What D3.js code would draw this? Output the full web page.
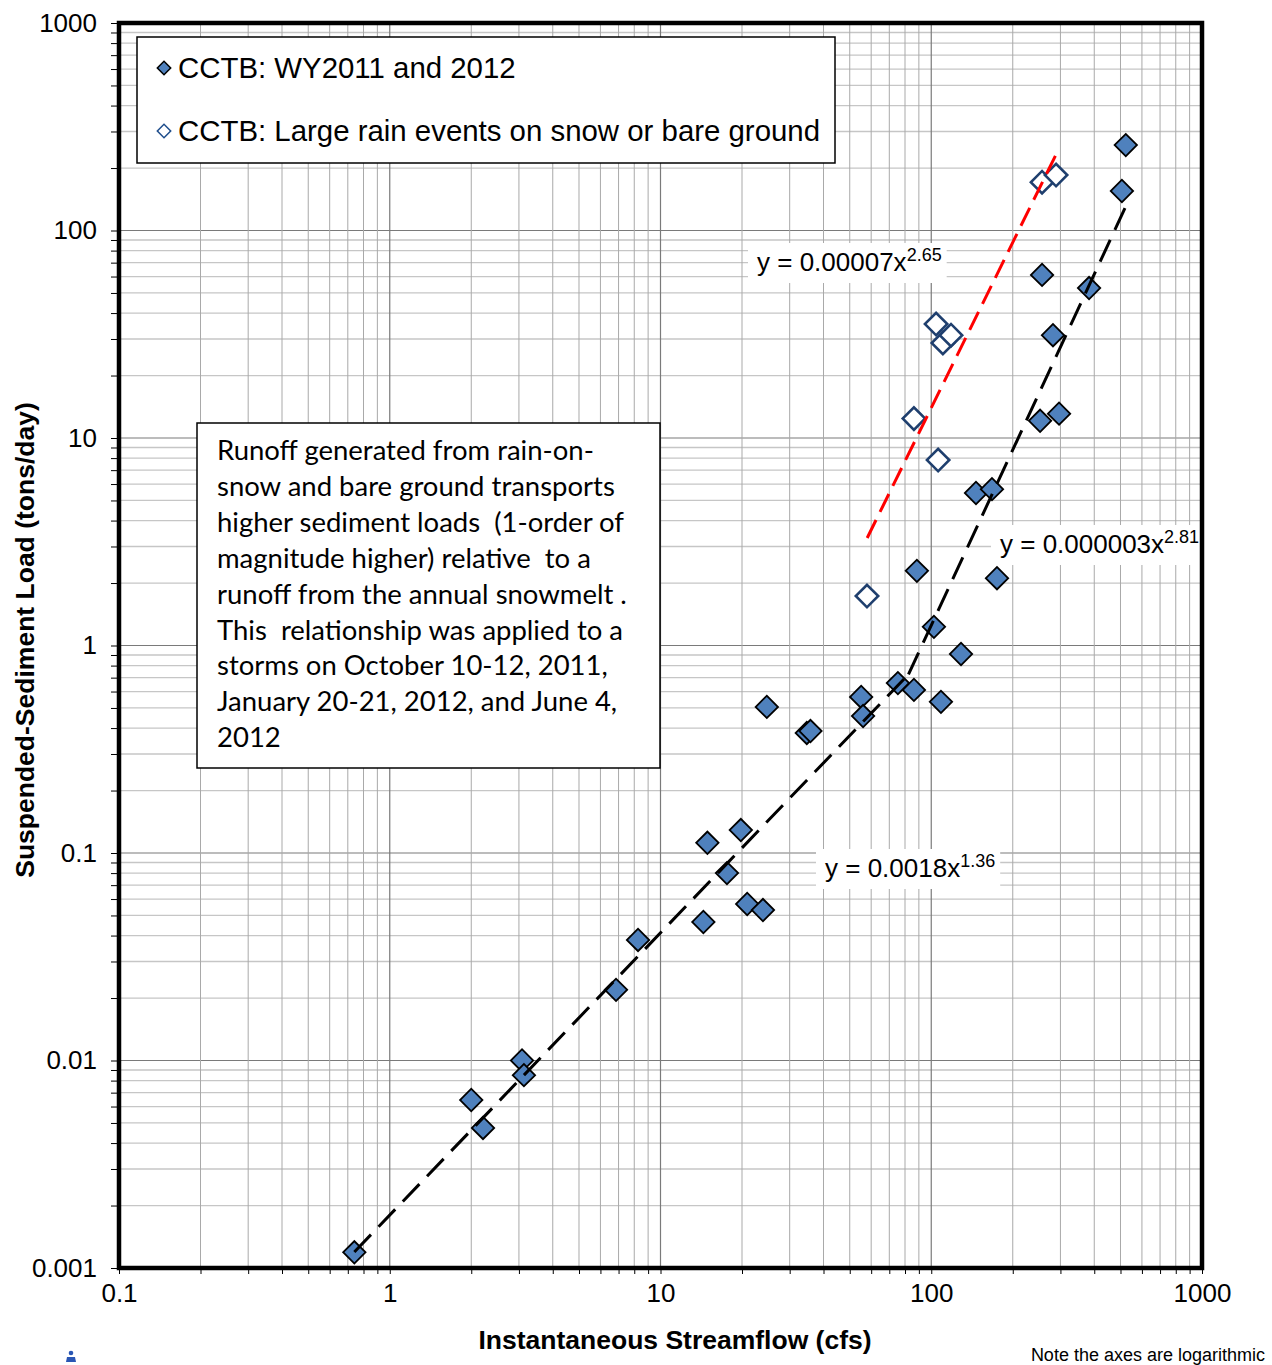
<!DOCTYPE html>
<html>
<head>
<meta charset="utf-8">
<script src="https://cdn.jsdelivr.net/npm/d3@7"></script>
<style>
  body { margin: 0; background: #fff; }
  text { font-family: "Liberation Sans", Arial, sans-serif; }
</style>
</head>
<body>
<svg id="chart" width="1272" height="1365"></svg>
<script>
// Instantaneous streamflow (cfs) and suspended-sediment load (tons/day), CCTB WY2011-2012
const flowCfs = [0.74, 2.0, 2.21, 3.08, 3.13, 6.85, 8.26, 14.4, 14.9, 17.6, 19.8, 20.9, 23.9, 24.7,
  34.7, 35.8, 55.1, 56.0, 75.3, 86.3, 88.5, 102.3, 108.6, 128.8, 146.3, 167.6, 174.9,
  252.3, 296.5, 281.6, 256.6, 382.7, 506, 523];
const loadTons = [0.00119, 0.00645, 0.00473, 0.0100, 0.0085, 0.0219, 0.0381, 0.0465, 0.112, 0.080, 0.129, 0.0568, 0.0531, 0.506,
  0.379, 0.387, 0.565, 0.457, 0.659, 0.611, 2.29, 1.23, 0.535, 0.91, 5.43, 5.67, 2.11,
  12.1, 13.1, 31.3, 61.1, 52.8, 155, 258];

// Large rain events on snow or bare ground
const rainFlowCfs = [57.9, 86.3, 106, 104.2, 110.4, 118.3, 256.6, 289];
const rainLoadTons = [1.73, 12.4, 7.83, 35.4, 28.7, 31.3, 171, 185];

// Power-law trend lines y = a * x^b, each drawn over its flow range
const trendCoef = [0.0018, 0.000003, 0.00007];
const trendExp = [1.36, 2.81, 2.65];
const trendFrom = [0.74, 82.4, 58];
const trendTo = [82.4, 523, 291];
const trendColor = ["#000", "#000", "#ff0000"];
const trendCoefText = ["0.0018", "0.000003", "0.00007"];
const trendExpText = ["1.36", "2.81", "2.65"];

const xTickLabels = ["0.1", "1", "10", "100", "1000"];
const yTickLabels = ["0.001", "0.01", "0.1", "1", "10", "100", "1000"];

const legendLabels = ["CCTB: WY2011 and 2012", "CCTB: Large rain events on snow or bare ground"];

const noteLines = [
  "Runoff generated from rain-on-",
  "snow and bare ground transports",
  "higher sediment loads  (1-order of",
  "magnitude higher) relative  to a",
  "runoff from the annual snowmelt .",
  "This  relationship was applied to a",
  "storms on October 10-12, 2011,",
  "January 20-21, 2012, and June 4,",
  "2012"
];

const svg = d3.select("#chart");
const plotLeft = 119, plotRight = 1202, plotTop = 23, plotBottom = 1268;

const x = d3.scaleLog().domain([0.1, 1000]).range([plotLeft, plotRight]);
const y = d3.scaleLog().domain([0.001, 1000]).range([plotBottom, plotTop]);

// every 1..9 multiple of each decade
function gridValues(lo, hi) {
  const out = [];
  for (let e = lo; e < hi; e++) for (let k = 1; k <= 9; k++) out.push(+(k * Math.pow(10, e)).toPrecision(3));
  out.push(Math.pow(10, hi));
  return out;
}
const xGrid = gridValues(-1, 3);
const yGrid = gridValues(-3, 3);
const isMajor = v => Math.abs(Math.log10(v) - Math.round(Math.log10(v))) < 1e-9;

// gridlines
const grid = svg.append("g");
grid.selectAll("line.hx").data(yGrid).join("line")
  .attr("x1", plotLeft).attr("x2", plotRight)
  .attr("y1", d => y(d)).attr("y2", d => y(d))
  .attr("stroke", d => isMajor(d) ? "#7a7a7a" : "#c6c6c6")
  .attr("stroke-width", d => isMajor(d) ? 1.2 : 1.3);
grid.selectAll("line.vx").data(xGrid).join("line")
  .attr("y1", plotTop).attr("y2", plotBottom)
  .attr("x1", d => x(d)).attr("x2", d => x(d))
  .attr("stroke", d => isMajor(d) ? "#7a7a7a" : "#a9a9a9")
  .attr("stroke-width", d => isMajor(d) ? 1.2 : 1);

// axes
const yAxis = d3.axisLeft(y).tickValues(yGrid).tickSize(8).tickPadding(14)
  .tickFormat(d => isMajor(d) ? yTickLabels[Math.round(Math.log10(d)) + 3] : "");
const yg = svg.append("g").attr("transform", `translate(${plotLeft},0)`).call(yAxis);
yg.select(".domain").remove();
yg.selectAll("line").attr("stroke", "#000").attr("stroke-width", 1);
yg.selectAll("text").attr("font-size", 26).attr("fill", "#000")
  .attr("font-family", "Liberation Sans, Arial, sans-serif");

const xAxis = d3.axisBottom(x).tickValues(xGrid).tickSize(6).tickPadding(10)
  .tickFormat(d => isMajor(d) ? xTickLabels[Math.round(Math.log10(d)) + 1] : "");
const xg = svg.append("g").attr("transform", `translate(0,${plotBottom})`).call(xAxis);
xg.select(".domain").remove();
xg.selectAll("line").attr("stroke", "#000").attr("stroke-width", 1);
xg.selectAll("text").attr("font-size", 26).attr("fill", "#000")
  .attr("font-family", "Liberation Sans, Arial, sans-serif");

// annotation box
const box = svg.append("g");
box.append("rect").attr("x", 197).attr("y", 423).attr("width", 463).attr("height", 345)
  .attr("fill", "#fff").attr("stroke", "#000").attr("stroke-width", 1.5);
const noteText = box.append("g").attr("fill", "#000");
noteText.selectAll("text").data(noteLines).join("text")
  .attr("x", 217).attr("y", (d, i) => 460 + i * 35.9)
  .attr("font-size", 26)
  .style("font-family", "Lato, 'Open Sans', sans-serif")
  .style("white-space", "pre")
  .text(d => d);
// fit the longest line to the box width
{
  const probe = noteText.selectAll("text").nodes()[4];
  const w = probe.getComputedTextLength();
  const fs = 26 * 410 / w;
  noteText.selectAll("text").attr("font-size", fs);
}

// data markers
const diamond = d3.symbol().type(d3.symbolSquare).size(250);
const pts = flowCfs.map((f, i) => ({ f, l: loadTons[i] }));
const rainPts = rainFlowCfs.map((f, i) => ({ f, l: rainLoadTons[i] }));

svg.append("g").selectAll("path").data(pts).join("path")
  .attr("d", diamond)
  .attr("transform", d => `translate(${x(d.f)},${y(d.l)}) rotate(45)`)
  .attr("fill", "#4f81bd").attr("stroke", "#000").attr("stroke-width", 1.8);

svg.append("g").selectAll("path").data(rainPts).join("path")
  .attr("d", diamond)
  .attr("transform", d => `translate(${x(d.f)},${y(d.l)}) rotate(45)`)
  .attr("fill", "#fff").attr("stroke", "#1f3f6e").attr("stroke-width", 2.6);

// trend lines
const line = d3.line().x(d => x(d[0])).y(d => y(d[1]));
trendCoef.forEach((a, i) => {
  const b = trendExp[i];
  const ends = [trendFrom[i], trendTo[i]].map(v => [v, a * Math.pow(v, b)]);
  svg.append("path").attr("d", line(ends))
    .attr("fill", "none").attr("stroke", trendColor[i]).attr("stroke-width", 3)
    .attr("stroke-dasharray", i === 2 ? "20,9" : "24,11");
});

// trend equation labels on white backgrounds
const eqPos = [[825, 877], [1000, 553], [757, 271]];
trendCoef.forEach((a, i) => {
  const g = svg.append("g");
  const bg = g.append("rect").attr("fill", "#fff");
  const t = g.append("text").attr("x", eqPos[i][0]).attr("y", eqPos[i][1])
    .attr("font-size", 26).attr("fill", "#000");
  t.append("tspan").text(`y = ${trendCoefText[i]}x`);
  t.append("tspan").attr("dy", -10).attr("font-size", 18).text(trendExpText[i]);
  const bb = t.node().getBBox();
  bg.attr("x", bb.x - 9).attr("y", bb.y - 2).attr("width", bb.width + 14).attr("height", bb.height + 8);
});

// legend
const lg = svg.append("g");
lg.append("rect").attr("x", 137).attr("y", 37).attr("width", 698).attr("height", 126)
  .attr("fill", "#fff").attr("stroke", "#000").attr("stroke-width", 1.5);
const smallDiamond = d3.symbol().type(d3.symbolSquare).size(90);
lg.append("path").attr("d", smallDiamond).attr("transform", "translate(164,68) rotate(45)")
  .attr("fill", "#4f81bd").attr("stroke", "#000").attr("stroke-width", 1.5);
lg.append("path").attr("d", smallDiamond).attr("transform", "translate(164,131) rotate(45)")
  .attr("fill", "#fff").attr("stroke", "#1f4e8c").attr("stroke-width", 1.5);
lg.selectAll("text").data(legendLabels).join("text")
  .attr("x", 178).attr("y", (d, i) => 78 + i * 63)
  .attr("font-size", 29.4).attr("fill", "#000").text(d => d);

// plot frame
svg.append("rect").attr("x", plotLeft).attr("y", plotTop)
  .attr("width", plotRight - plotLeft).attr("height", plotBottom - plotTop)
  .attr("fill", "none").attr("stroke", "#000").attr("stroke-width", 4.5);

// axis titles
svg.append("text").attr("x", 675).attr("y", 1349).attr("text-anchor", "middle")
  .attr("font-size", 26.5).attr("font-weight", "bold").attr("fill", "#000")
  .text("Instantaneous Streamflow (cfs)");
svg.append("text").attr("transform", "translate(34,640) rotate(-90)").attr("text-anchor", "middle")
  .attr("font-size", 26.5).attr("font-weight", "bold").attr("fill", "#000")
  .text("Suspended-Sediment Load (tons/day)");

svg.append("text").attr("x", 1265).attr("y", 1361).attr("text-anchor", "end")
  .attr("font-size", 18).attr("fill", "#000").text("Note the axes are logarithmic");

// small page icon, bottom left
const icon = svg.append("g").attr("fill", "#2a56b4");
icon.append("circle").attr("cx", 71).attr("cy", 1353).attr("r", 2.3);
icon.append("path").attr("d", "M66,1362 L67,1357 L75,1357 L76,1362 Z");
</script>
</body>
</html>
